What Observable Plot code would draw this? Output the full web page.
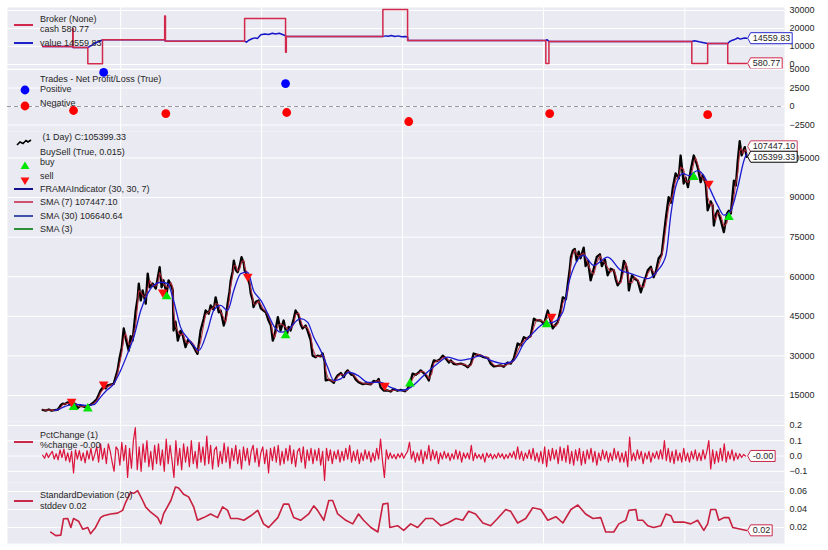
<!DOCTYPE html>
<html>
<head>
<meta charset="utf-8">
<script src="https://cdn.jsdelivr.net/npm/d3@7"></script>
<script src="https://cdn.jsdelivr.net/npm/@observablehq/plot@0.6"></script>
<style>
  html, body { margin: 0; padding: 0; background: #fff; }
  #chart { position: relative; width: 828px; height: 550px; overflow: hidden;
           font-family: "Liberation Sans", Arial, "DejaVu Sans", sans-serif; color: #262626; }
  .lt { position: absolute; font-size: 9px; line-height: 11px; white-space: pre; color: #262626; }
  .lh { position: absolute; height: 0; border-top-style: solid; }
  .li { position: absolute; }
</style>
</head>
<body>
<div id="chart"></div>
<script>
// ---------------- DATA ----------------
// day offsets are days since the first bar (2020-06-13)
const firstBar = "2020-06-13";

// close price (black line)
const priceDays = [0,8,16,23,31,39,47,52,57,65,70,78,85,91,98,109,119,124,132,140,145,150,158,163,168,176,184,189,194,199,
  205,210,215,223,228,233,241,246,249,254,259,267,272,277,285,293,298,303,308,313,321,326,332,337,339,344,350,357,363,370,
  376,383,391,396,401,409,417,422,430,435,443,448,456,461,469,474,479,484,487,492,495,500,505,510,515,521,523,528,531,536,
  539,544,546,552,559,565,572,578,585,591,596,601,609,616,624,632,637,642,650,655,663,668,673,681,686,694,699,707,712,720,
  725,730,733,741,746,754,759,764,772,780,785,790,798,805,811,818,829,837,842,850,857,865,870,875,883,894,901,909,919,927,
  938,945,951,958,966,974,979,987,995,1000,1008,1013,1020,1028,1036,1044,1052,1057,1064,1072,1083,1093,1101,1109,1116,1124,1134,1142,1153,1160,
  1168,1178,1186,1194,1204,1212,1220,1230,1238,1246,1254,1264,1272,1279,1290,1298,1308,1316,1321,1329,1334,1342,1347,1355,1360,1365,1368,1373,1378,1383,
  1388,1393,1401,1406,1412,1419,1427,1435,1443,1448,1456,1463,1471,1479,1484,1489,1497,1505,1510,1515,1518,1526,1533,1541,1549,1557,1562,1567,1575,1582,
  1588,1595,1603,1608,1614,1621,1627,1632,1639,1647,1652,1660,1665,1671,1678,1686,1691,1696,1704,1709,1717,1722,1730,1735,1738,1743,1748,1756,1764,1772,
  1777,1782,1790,1795,1800,1805,1810,1813,1818,1823];
const priceClose = [9580,9300,9700,9250,9450,9600,11300,11900,11700,12400,11600,12000,11800,10300,11200,10700,11200,11500,12400,13600,15200,16900,18400,17700,18800,19100,19400,22000,24500,29000,
  33300,40400,36600,32000,37500,35800,47200,52000,57400,51000,54800,49800,61200,56000,57400,55500,59500,63600,56000,58600,53600,58600,57000,54800,39600,43000,35800,39500,37700,33300,
  36000,35200,33500,32000,30800,39600,44000,47200,46000,49100,47500,52200,46500,47200,41500,44000,49800,54500,58600,62000,66100,62500,61700,64000,67400,65000,62400,61000,59800,57000,
  53600,51000,48500,50500,51000,48000,47200,46500,43400,41500,35800,38000,44700,39600,43400,37700,41000,39600,44000,47200,45300,42000,40400,41500,39600,36000,30100,29500,30100,29800,
  30900,28000,20700,21000,20700,19800,21500,22600,23500,22000,23800,24500,23000,22600,21000,20000,19300,19600,19400,19200,20500,20200,21300,18100,16900,16900,16500,17500,16800,17100,
  16600,17500,19500,23300,22800,23800,24500,23500,22000,20700,26000,28300,28000,28600,30100,29000,27500,28300,27000,26800,27100,26500,25700,27000,30900,30500,30100,29500,29200,27100,
  26000,26200,26400,25900,27500,27100,29000,34700,34000,37100,36500,37700,44100,43500,43400,42000,47200,43000,40400,42000,42800,48000,52200,51500,57400,63000,67400,69900,70500,66000,
  69500,67000,71000,64000,66000,58600,63000,67500,68500,64000,66500,60500,63000,62400,59000,56700,58500,66000,64500,61200,54800,60500,59200,58500,54100,58000,60000,62400,63800,59800,
  62000,66900,68500,75000,82500,90100,88000,93900,99100,97200,105900,95300,97500,93900,100200,105900,104000,101500,95800,98500,95200,85100,88500,87000,79400,83500,85100,81300,76900,83900,
  85000,83900,96400,94500,104000,111300,106000,107200,109100,105399.33];

// SMA (30) (blue line)
const smaDays = [31,39,57,78,98,117,132,150,166,181,202,220,236,254,272,287,306,324,339,357,376,391,404,427,443,461,479,495,513,531,
  546,565,583,598,616,635,650,668,686,702,720,738,754,772,793,816,842,875,901,927,953,987,1023,1049,1083,1109,1134,1160,1194,1220,
  1246,1272,1298,1323,1347,1362,1380,1401,1427,1463,1497,1523,1567,1593,1614,1627,1639,1658,1673,1696,1712,1730,1748,1764,1782,1800,1816,1823];
const smaValues = [9400,9600,10800,11600,11500,11200,11500,14400,17000,18800,24500,30900,37100,47200,53600,56700,57900,57400,51000,40900,36600,33900,32000,39600,47200,49100,47200,54800,61200,61700,
  54800,51000,46000,41500,39000,39600,42200,44100,42800,37100,32000,25700,20700,21300,23800,22600,20000,20000,18100,16900,18100,22600,27100,29500,28300,29000,30100,28300,27100,28300,
  34700,39000,42200,42800,46600,57400,65000,68100,64300,67400,62400,61200,59300,62400,68100,83900,93900,99100,98300,100200,98300,92600,87000,83300,85100,93900,104000,106640.64];

// BuySell markers
const buyDays = [80,117,321,629,951,1305,1686,1777];
const buyPrices = [10600,10000,52500,37700,19500,41900,97700,82500];
const sellDays = [75,158,311,531,886,1318,1725];
const sellPrices = [12700,19200,54100,60100,18800,44900,95300];

// Broker
const cashDays = [0,78,79,117,155,316,318,523,629,631,881,945,1303,1311,1681,1722,1774,1823];
const cashValues = [10000,20000,9400,400,13700,27000,12900,25500,6800,15500,30500,13300,500,12800,500,11700,580.77,580.77];
const valueDays = [0,77,79,117,121,127,132,138,144,150,155,316,318,523,528,534,542,550,556,565,575,585,595,603,613,621,629,631,
  881,888,895,903,912,920,930,940,945,946,1303,1306,1311,1681,1688,1700,1712,1722,1774,1779,1784,1790,1796,1800,1806,1812,1818,1823];
const valueValues = [10000,10000,9400,9400,9900,10600,11400,12100,12600,13200,13700,13700,12900,12900,12400,13500,14300,14800,14500,16500,17000,16700,17400,17000,17400,16700,16000,15500,
  15500,15900,15700,16100,15600,15900,15400,15600,15300,13300,13300,13800,12800,12800,13200,12600,12100,11700,11700,12800,13300,13700,14300,14800,14100,14400,14700,14559.83];

// Trades - Net Profit/Loss
const tradeDays = [80,158,319,629,632,948,1313,1722];
const tradePnl = [-540,4600,-950,3100,-810,-2030,-950,-1100];

// PctChange (1), one reading every 5 days
const pctEvery5Days = [
  0.005,-0.015,0.02,-0.01,0.012,0.03,-0.02,0.015,-0.025,0.04,-0.01,0.045,-0.03,0.02,-0.04,0.03,-0.11,0.04,-0.02,0.035,
  -0.03,0.02,-0.045,0.035,-0.02,0.05,-0.03,0.01,0.06,-0.04,0.08,-0.02,0.05,-0.05,0.08,0.03,-0.04,-0.10,0.06,0.04,
  -0.06,0.09,-0.03,0.07,-0.14,0.05,-0.08,0.10,0.185,-0.09,0.06,-0.10,0.08,-0.04,0.10,-0.07,0.03,-0.09,0.07,-0.05,
  0.08,-0.06,0.04,-0.10,0.11,-0.05,0.07,-0.03,-0.14,0.10,-0.06,0.05,-0.09,0.08,-0.04,0.06,-0.07,0.10,-0.05,0.03,
  -0.08,0.09,-0.04,0.06,-0.06,0.13,-0.05,0.07,-0.085,0.04,0.06,-0.07,0.03,-0.05,0.085,-0.04,0.06,-0.08,0.05,-0.03,
  0.07,-0.05,0.04,-0.085,0.06,-0.03,0.05,-0.06,0.03,0.07,-0.04,0.05,-0.07,0.02,0.06,-0.05,0.04,-0.11,0.05,-0.03,
  0.06,-0.04,0.07,-0.06,0.03,-0.05,0.05,-0.03,0.07,-0.05,0.04,-0.07,0.03,0.05,-0.04,0.06,-0.08,0.04,-0.03,0.05,
  -0.05,0.04,-0.03,0.05,-0.06,0.03,-0.16,0.05,-0.03,0.04,-0.05,0.03,-0.02,0.04,-0.04,0.03,-0.03,0.05,-0.02,0.07,
  -0.04,0.03,-0.03,0.04,-0.05,0.02,-0.03,0.04,-0.02,0.03,-0.04,0.02,-0.03,0.05,-0.02,0.11,-0.03,-0.14,0.04,-0.02,
  0.02,-0.015,0.01,-0.02,0.015,-0.01,0.02,-0.015,0.01,0.03,0.09,-0.02,0.03,-0.04,0.02,-0.03,0.04,-0.05,0.03,-0.02,
  0.07,-0.03,0.04,-0.02,0.03,-0.05,0.02,-0.02,0.03,-0.015,0.02,-0.03,0.015,-0.02,0.04,-0.02,0.03,-0.04,0.02,-0.015,
  0.02,-0.02,0.07,-0.03,0.02,-0.015,0.01,-0.02,0.015,-0.04,0.02,-0.01,0.015,-0.02,0.01,-0.015,0.02,-0.01,0.015,-0.02,
  0.01,-0.015,0.02,-0.01,0.03,-0.02,0.06,-0.02,0.03,-0.03,0.02,-0.015,0.04,-0.02,0.05,-0.03,0.02,-0.04,0.03,-0.05,
  0.06,-0.07,0.04,-0.03,0.05,-0.02,0.04,-0.05,0.06,-0.03,0.05,-0.04,0.07,-0.05,0.03,-0.06,0.04,-0.03,0.05,-0.06,
  0.03,-0.05,0.04,-0.02,0.05,-0.04,0.03,-0.06,0.02,-0.03,0.04,-0.02,0.03,-0.04,0.02,-0.03,0.05,-0.02,0.03,-0.04,
  0.02,-0.04,0.03,-0.07,0.124,-0.03,0.02,-0.03,0.04,-0.02,0.03,-0.05,0.02,-0.02,0.03,-0.04,0.02,-0.015,0.03,-0.02,
  0.04,-0.02,0.10,-0.03,0.05,-0.04,0.03,-0.05,0.04,-0.03,0.02,-0.04,0.05,-0.03,0.02,-0.04,0.03,-0.02,0.04,-0.03,
  0.02,-0.03,0.04,-0.02,0.03,0.10,-0.085,0.04,-0.05,0.03,-0.04,0.05,-0.03,0.08,-0.04,0.03,-0.02,0.04,-0.03,0.02,
  -0.02,0.015,-0.01,0.01,-0.0005];

// StandardDeviation (20)
const stdDays = [21,34,47,54,65,73,80,93,104,117,124,137,150,158,176,194,207,215,228,236,246,259,267,280,298,306,313,332,344,352,
  365,378,391,401,417,435,453,466,479,487,505,521,539,557,572,585,609,624,637,650,668,689,702,712,728,741,751,764,785,803,
  818,831,850,868,881,894,899,919,935,953,971,992,1010,1031,1049,1070,1088,1103,1121,1140,1160,1178,1199,1212,1230,1251,1269,1290,1308,1329,
  1347,1368,1386,1406,1425,1445,1458,1479,1492,1510,1518,1536,1541,1554,1567,1582,1601,1614,1627,1634,1660,1678,1696,1712,1722,1730,1743,1751,1764,1777,
  1787,1808,1823];
const stdValues = [0.0148,0.011,0.0115,0.0297,0.030,0.020,0.030,0.027,0.018,0.020,0.013,0.020,0.031,0.033,0.035,0.036,0.039,0.048,0.059,0.058,0.061,0.050,0.0426,0.037,0.031,0.024,0.035,0.050,0.065,0.064,
  0.057,0.054,0.043,0.028,0.031,0.035,0.031,0.043,0.039,0.030,0.030,0.028,0.033,0.039,0.024,0.020,0.031,0.046,0.046,0.031,0.028,0.035,0.044,0.039,0.028,0.050,0.050,0.035,0.028,0.024,
  0.035,0.028,0.020,0.015,0.046,0.047,0.020,0.022,0.0167,0.024,0.020,0.030,0.030,0.022,0.025,0.030,0.028,0.038,0.035,0.025,0.022,0.030,0.040,0.038,0.025,0.030,0.042,0.040,0.028,0.032,
  0.025,0.040,0.045,0.035,0.030,0.031,0.015,0.015,0.024,0.028,0.039,0.040,0.028,0.028,0.022,0.020,0.022,0.035,0.033,0.026,0.026,0.024,0.028,0.0167,0.024,0.040,0.040,0.028,0.031,0.031,
  0.020,0.018,0.0167];

// axis ticks
const brokerTicks = [0, 10000, 20000, 30000];
const tradeTicks = [-2500, 0, 2500, 5000];
const priceTicks = [15000, 30000, 45000, 60000, 75000, 90000, 105000];
const pctTicks = [-0.1, 0.0, 0.1, 0.2];
const stdTicks = [0.02, 0.04, 0.06];
const gridYears = [2021, 2022, 2023, 2024, 2025];

// legend texts
const brokerLegend = ["Broker (None)", "cash 580.77", "value 14559.83"];
const tradesLegend = ["Trades - Net Profit/Loss (True)", "Positive", "Negative"];
const priceLegend = [" (1 Day) C:105399.33", "BuySell (True, 0.015)", "buy", "sell",
  "FRAMAIndicator (30, 30, 7)", "SMA (7) 107447.10", "SMA (30) 106640.64", "SMA (3)"];
const pctLegend = ["PctChange (1)", "%change -0.00"];
const stdLegend = ["StandardDeviation (20)", "stddev 0.02"];

// last-value tags
const tagCash = "580.77", tagValue = "14559.83", tagSma7 = "107447.10", tagClose = "105399.33",
      tagPct = "-0.00", tagStd = "0.02";
const lastSma7 = 107447.10;

// ---------------- BUILD ----------------
const FONT = '"Liberation Sans", Arial, "DejaVu Sans", sans-serif';
const start = new Date(firstBar + "T00:00:00Z");
const toDate = d => d3.utcDay.offset(start, d);
const xDomain = [new Date("2020-03-14T00:00:00Z"), new Date("2025-09-16T00:00:00Z")];
const yearGrid = gridYears.map(y => new Date(Date.UTC(y, 0, 1)));
const lastDate = toDate(priceDays[priceDays.length - 1]);

const zip = (days, vals) => days.map((d, i) => ({date: toDate(d), v: vals[i]}));
const priceData = zip(priceDays, priceClose);
const smaData = zip(smaDays, smaValues);
const buyData = zip(buyDays, buyPrices);
const sellData = zip(sellDays, sellPrices);
const cashData = zip(cashDays, cashValues);
const valueData = zip(valueDays, valueValues);
const tradeData = zip(tradeDays, tradePnl);
const pctData = pctEvery5Days.map((v, i) => ({date: toDate(i * 5), v}));
const stdData = zip(stdDays, stdValues);

const chart = document.getElementById("chart");
const W = 828, ML = 7, MR = 44;
const SVGNS = "http://www.w3.org/2000/svg";

// last-value tag: a text mark; its box is drawn around the measured text afterwards
function tag(value, label, dy = 0) {
  return Plot.text([{date: lastDate, v: value, label}], {
    x: "date", y: "v", text: "label", textAnchor: "start", dx: 6, dy,
    fontSize: 9, fill: "#262626"
  });
}
function boxTags(svg, tags) {
  // tag texts are drawn after the axis, so search from the end
  const all = Array.from(svg.querySelectorAll("text")).reverse();
  tags.forEach(({label, color}) => {
    const t = all.find(e => e.textContent === label);
    if (!t) return;
    const bb = t.getBBox();
    const l = bb.x - 2, r = bb.x + bb.width + 2, top = bb.y - 0.5, bot = bb.y + bb.height + 0.5;
    const p = document.createElementNS(SVGNS, "path");
    p.setAttribute("d", `M${l},${top}H${r}V${bot}H${l}L${l - 3},${(top + bot) / 2}Z`);
    p.setAttribute("fill", "#ffffff");
    p.setAttribute("stroke", color);
    p.setAttribute("stroke-width", "1");
    if (t.getAttribute("transform")) p.setAttribute("transform", t.getAttribute("transform"));
    t.parentNode.insertBefore(p, t);
  });
}

function panel(top, height, yDomain, yTicks, fmt, marks, tags = []) {
  const svg = Plot.plot({
    width: W, height, marginLeft: ML, marginRight: MR, marginTop: 0, marginBottom: 0,
    x: {type: "utc", domain: xDomain, axis: null},
    y: {domain: yDomain, axis: null},
    style: {background: "transparent", overflow: "visible", fontFamily: FONT, fontSize: "9px", color: "#262626"},
    marks: [
      Plot.frame({fill: "#EAEAF2", stroke: "none"}),
      Plot.gridX(yearGrid, {stroke: "#ffffff", strokeOpacity: 1, strokeWidth: 1}),
      Plot.gridY(yTicks, {stroke: "#ffffff", strokeOpacity: 1, strokeWidth: 1}),
      Plot.axisY(yTicks, {anchor: "right", tickSize: 0, tickPadding: 5, tickFormat: fmt, label: null, fontSize: 9}),
      ...marks
    ]
  });
  svg.style.position = "absolute";
  svg.style.left = "0px";
  svg.style.top = top + "px";
  chart.appendChild(svg);
  boxTags(svg, tags);
}

const fmtInt = d3.format("d");

// Broker
panel(7, 61, [-2222, 31667], brokerTicks, fmtInt, [
  Plot.line(valueData, {x: "date", y: "v", stroke: "#1414c8", strokeWidth: 1.5}),
  Plot.line(cashData, {x: "date", y: "v", stroke: "#d1284b", strokeWidth: 1.5, curve: "step-after"}),
  tag(valueValues[valueValues.length - 1], tagValue),
  tag(cashValues[cashValues.length - 1], tagCash)
], [{label: tagValue, color: "#2a2ad0"}, {label: tagCash, color: "#d1284b"}]);

// Trades
panel(68, 63, [-3378, 5135], tradeTicks, fmtInt, [
  Plot.ruleY([0], {stroke: "#9a9aa0", strokeDasharray: "4,3", strokeWidth: 1}),
  Plot.dot(tradeData.filter(d => d.v > 0), {x: "date", y: "v", r: 4.4, fill: "#0000ff", stroke: "none"}),
  Plot.dot(tradeData.filter(d => d.v <= 0), {x: "date", y: "v", r: 4.4, fill: "#ff0000", stroke: "none"})
]);

// Price
panel(131, 290, [5150, 115000], priceTicks, fmtInt, [
  Plot.line(priceData, {x: "date", y: "v", stroke: "#000000", strokeWidth: 2.3, strokeLinejoin: "round"}),
  Plot.lineY(priceData, Plot.windowY({k: 2, anchor: "end"}, {x: "date", y: "v", stroke: "#b8283a", strokeWidth: 1.1, strokeOpacity: 0.9})),
  Plot.line(smaData, {x: "date", y: "v", stroke: "#1a1ad0", strokeWidth: 1.3, curve: "monotone-x"}),
  Plot.dot(buyData, {x: "date", y: "v", symbol: "triangle", r: 3.6, fill: "#00e600", stroke: "none"}),
  Plot.dot(sellData, {x: "date", y: "v", symbol: "triangle", rotate: 180, r: 3.6, fill: "#ff1010", stroke: "none"}),
  tag(lastSma7, tagSma7, -5),
  tag(priceClose[priceClose.length - 1], tagClose)
], [{label: tagSma7, color: "#c8405a"}, {label: tagClose, color: "#000000"}]);

// PctChange
panel(421, 61, [-0.1732, 0.2255], pctTicks, d3.format(".1f"), [
  Plot.line(pctData, {x: "date", y: "v", stroke: "#dc143c", strokeWidth: 1.2}),
  tag(pctEvery5Days[pctEvery5Days.length - 1], tagPct)
], [{label: tagPct, color: "#c8284a"}]);

// StandardDeviation
panel(482, 61, [0.0022, 0.07], stdTicks, d3.format(".2f"), [
  Plot.line(stdData, {x: "date", y: "v", stroke: "#c8203f", strokeWidth: 1.6}),
  tag(stdValues[stdValues.length - 1], tagStd)
], [{label: tagStd, color: "#c8284a"}]);

// ---------------- LEGENDS ----------------
function text(t, x, cy) {
  const d = document.createElement("div");
  d.className = "lt"; d.textContent = t;
  d.style.left = x + "px"; d.style.top = (cy - 5.5) + "px";
  chart.appendChild(d);
}
function handle(color, cy, w = 2) {
  const d = document.createElement("div");
  d.className = "lh";
  d.style.left = "14px"; d.style.width = "19px";
  d.style.top = (cy - w / 2) + "px";
  d.style.borderTopWidth = w + "px"; d.style.borderTopColor = color;
  chart.appendChild(d);
}
function icon(svg, x, y, w, h) {
  const d = document.createElement("div");
  d.className = "li";
  d.style.left = x + "px"; d.style.top = y + "px";
  d.innerHTML = `<svg width="${w}" height="${h}" viewBox="0 0 ${w} ${h}">${svg}</svg>`;
  chart.appendChild(d);
}

// broker
handle("#d1284b", 24.7);
text(brokerLegend[0], 40, 19);
text(brokerLegend[1], 40, 29.5);
handle("#2020c8", 42.7);
text(brokerLegend[2], 40, 43);

// trades
text(tradesLegend[0], 40, 79);
icon('<circle cx="5" cy="5" r="4.4" fill="#0000ff"/>', 20, 80.5, 10, 10);
text(tradesLegend[1], 40, 89);
icon('<circle cx="5" cy="5" r="4.4" fill="#ff0000"/>', 20, 96.5, 10, 10);
text(tradesLegend[2], 40, 103);

// price
icon('<path d="M1,6 L4,3 L7,4.5 L10,1.5 L12,3 L15,1" fill="none" stroke="#000" stroke-width="1.6"/>', 16, 133, 17, 8);
text(priceLegend[0], 40, 137);
text(priceLegend[1], 40, 152);
icon('<path d="M5,0.5 L9.5,8 L0.5,8 Z" fill="#00e600"/>', 20, 155.5, 10, 9);
text(priceLegend[2], 40, 162);
icon('<path d="M0.5,0.5 L9.5,0.5 L5,8 Z" fill="#ff1010"/>', 19.5, 171.5, 10, 9);
text(priceLegend[3], 40, 176);
handle("#12128c", 189);
text(priceLegend[4], 40, 189);
handle("#d05070", 202);
text(priceLegend[5], 40, 202);
handle("#4050a8", 215.7);
text(priceLegend[6], 40, 216);
handle("#30903a", 229);
text(priceLegend[7], 40, 229);

// pct
handle("#c8284a", 441.7);
text(pctLegend[0], 40, 435.7);
text(pctLegend[1], 40, 445.7);

// std
handle("#c8284a", 500.7);
text(stdLegend[0], 40, 495);
text(stdLegend[1], 40, 506);
</script>
</body>
</html>
